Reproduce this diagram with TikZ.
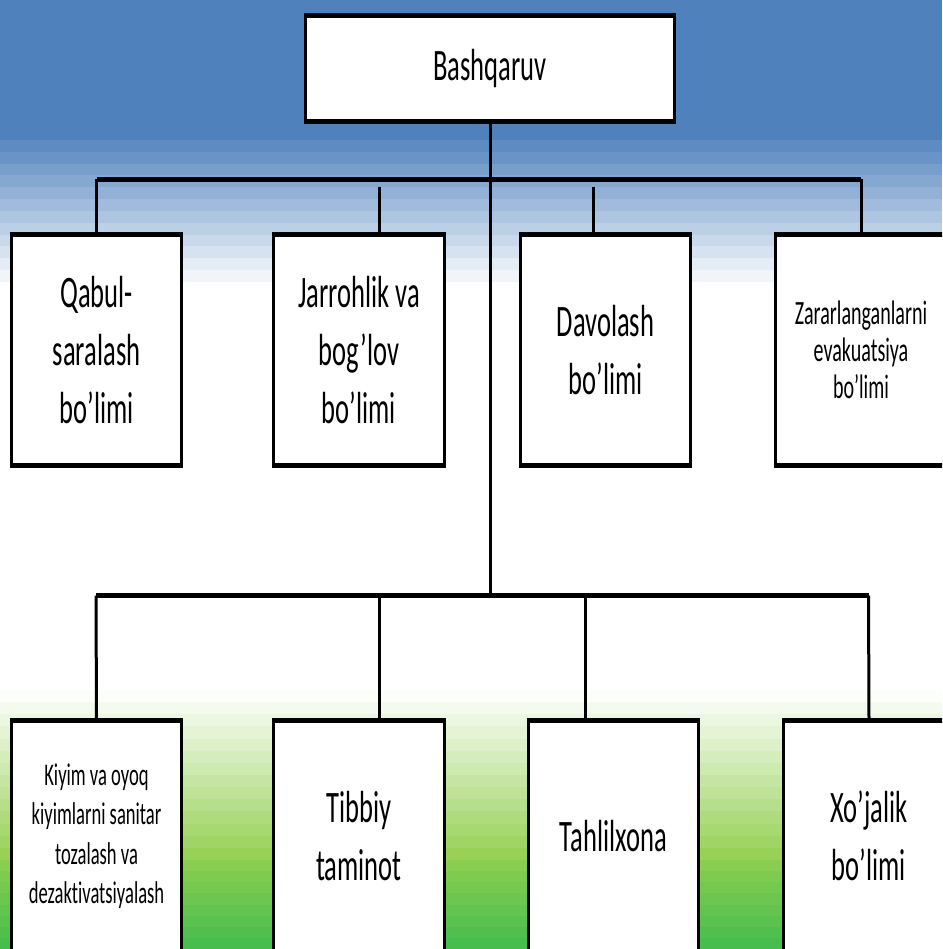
\documentclass[tikz,border=0pt]{standalone}
\usepackage{fontspec}
\setmainfont{Carlito}[FakeStretch=0.59, Ligatures=NoCommon]
\definecolor{slideblue}{HTML}{4F81BD}
\definecolor{leafgreen}{HTML}{92D050}
\definecolor{deepgreen}{HTML}{47BD4E}

\begin{document}
\begin{tikzpicture}[x=1pt,y=-1pt,
  unitbox/.style={fill=white, draw=none, inner sep=0pt, align=center,
    minimum width=170pt, minimum height=231pt, font=\bigtext},
  headbox/.style={unitbox, minimum width=369pt, minimum height=106pt},
  smalltext/.style={font=\fontsize{34}{37}\selectfont},
  listtext/.style={font=\fontsize{31.5}{39.5}\selectfont},
  vline/.style={line width=3pt},
  hline/.style={line width=5pt, shorten <=-1.5pt, shorten >=-1.5pt},
  busline/.style={line width=5pt},
  link/.style={line width=3pt}]
\newcommand\bigtext{\fontsize{45}{58}\selectfont}

% canvas and backdrop
\clip (0,0) rectangle (942,949);
\fill[white] (0,0) rectangle (942,949);
\fill[slideblue] (0,0) rectangle (942,140.5);
\foreach \k in {1,...,12}{
  \pgfmathsetmacro\f{100-\k*100/13}
  \fill[slideblue!\f!white] (0,{140+(\k-1)*11.83}) rectangle (942,{140.5+\k*11.83});
}
\foreach \k in {0,...,13}{
  \pgfmathsetmacro\f{(\k+0.4)*100/14}
  \fill[leafgreen!\f!white] (0,{690+\k*12.14}) rectangle (942,{690.5+(\k+1)*12.14});
}
\foreach \k in {0,...,7}{
  \pgfmathsetmacro\f{(\k+1)*100/8}
  \fill[deepgreen!\f!leafgreen] (0,{860+\k*11.125}) rectangle (942,{860.5+(\k+1)*11.125});
}

% boxes
\node[headbox] (top) at (490,68.5) {Bashqaruv};
\node[unitbox] (u1) at (96.5,350) {Qabul-\\saralash\\bo’limi};
\node[unitbox] (u2) at (359,350) {Jarrohlik va\\bog’lov\\bo’limi};
\node[unitbox] (u3) at (605.5,350) {Davolash\\bo’limi};
\node[unitbox, smalltext] (u4) at (861,350) {Zararlanganlarni\\evakuatsiya\\bo’limi};
\node[unitbox, listtext] (l1) at (96.5,836) {Kiyim va oyoq\\kiyimlarni sanitar\\tozalash va\\dezaktivatsiyalash};
\node[unitbox] (l2) at (359,836) {Tibbiy\\taminot};
\node[unitbox] (l3) at (613.5,836) {Tahlilxona};
\node[unitbox] (l4) at (869,836) {Xo’jalik\\bo’limi};

\foreach \n in {top,u1,u2,u3,u4,l1,l2,l3,l4}{
  \draw[vline] (\n.north west) -- (\n.south west);
  \draw[vline] (\n.north east) -- (\n.south east);
  \draw[hline] (\n.north west) -- (\n.north east);
  \draw[hline] (\n.south west) -- (\n.south east);
}

% connectors
\coordinate (ua) at (96.5,179.5);
\coordinate (ub) at (861,179.5);
\coordinate (d2) at (379,187);
\coordinate (d3) at (593,187);
\coordinate (la) at (96,595.5);
\coordinate (lb) at (868.5,595.5);
\coordinate (t2) at (379.5,595.5);
\coordinate (t3) at (585,595.5);
\coordinate (tr) at (490,595.5);

\draw[link] (top.south) -- (tr);
\draw[busline] (ua) -- (ub);
\draw[link] (ua) -- (u1.north);
\draw[link] (ub) -- (u4.north);
\draw[link] (d2) -- (d2 |- u2.north);
\draw[link] (d3) -- (d3 |- u3.north);
\draw[busline] (la) -- (lb);
\draw[link] (la) -- (l1.north);
\draw[link] (t2) -- (t2 |- l2.north);
\draw[link] (t3) -- (t3 |- l3.north);
\draw[link] (lb) -- (l4.north);
\end{tikzpicture}
\end{document}
